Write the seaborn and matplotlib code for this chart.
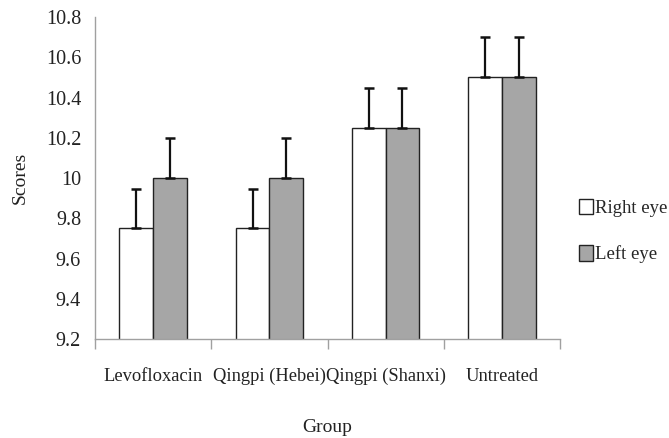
import matplotlib
matplotlib.use("Agg")
import matplotlib.pyplot as plt
import seaborn as sns
import pandas as pd
import numpy as np
from matplotlib.patches import Patch

groups = ["Levofloxacin", "Qingpi (Hebei)", "Qingpi (Shanxi)", "Untreated"]
right_eye = [9.75, 9.75, 10.25, 10.5]
left_eye = [10.0, 10.0, 10.25, 10.5]
right_err = [0.195, 0.195, 0.195, 0.2]
left_err = [0.2, 0.2, 0.195, 0.2]
series = ["Right eye", "Left eye"]
colors = ["#ffffff", "#a6a6a6"]

df = pd.DataFrame({
    "Group": groups * 2,
    "Score": right_eye + left_eye,
    "Eye": [series[0]] * 4 + [series[1]] * 4,
    "Err": right_err + left_err,
})

sns.set_style("white")
plt.rcParams['font.family'] = ['Liberation Serif', 'DejaVu Serif']

FS = 14.5

fig = plt.figure(figsize=(6.69, 4.38), dpi=100)
ax = fig.add_axes([95/669, 1 - 339/438, (560-95)/669, (339-17)/438])

sns.barplot(data=df, x="Group", y="Score", hue="Eye", palette=colors,
            errorbar=None, width=0.58, edgecolor="#222222", linewidth=1.0,
            ax=ax, legend=False)

# error bars (upper only) on bar centers
for cont, errs in zip(ax.containers, [right_err, left_err]):
    for patch, e in zip(cont.patches, errs):
        xc = patch.get_x() + patch.get_width() / 2
        top = patch.get_height() + patch.get_y()
        ax.errorbar(xc, top, yerr=[[0], [e]], fmt="none", ecolor="#111111",
                    elinewidth=1.6, capsize=3.3, capthick=1.8, zorder=3)

ax.set_ylim(9.2, 10.8)
ax.set_yticks(np.arange(9.2, 10.81, 0.2))
ax.set_yticklabels(["9.2", "9.4", "9.6", "9.8", "10", "10.2", "10.4", "10.6", "10.8"])
ax.set_xlim(-0.5, 3.5)
ax.set_xticks([0, 1, 2, 3])
ax.set_xticklabels(groups)
ax.set_xticks([-0.5, 0.5, 1.5, 2.5, 3.5], minor=True)
ax.tick_params(axis="x", which="major", length=0, pad=21, labelsize=13.3, colors="#222222")
ax.tick_params(axis="x", which="minor", length=7, width=1, color="#a0a0a0", direction="out")
ax.tick_params(axis="y", which="major", length=5, width=1, color="#a0a0a0", direction="out",
               labelsize=FS, pad=5, labelcolor="#222222")
ax.tick_params(axis="x", bottom=True, which="minor")

for s in ["top", "right"]:
    ax.spines[s].set_visible(False)
for s in ["left", "bottom"]:
    ax.spines[s].set_color("#a0a0a0")
    ax.spines[s].set_linewidth(1.0)

ax.set_xlabel("Group", fontsize=14, labelpad=24, color="#222222")
ax.set_ylabel("Scores", fontsize=14, labelpad=12, color="#222222")

handles = [Patch(facecolor=c, edgecolor="#222222", linewidth=1.0) for c in colors]
ax.legend(handles, series, loc="center left", bbox_to_anchor=(1.04, 0.335), frameon=False,
          fontsize=13.5, handlelength=0.75, handleheight=0.9, handletextpad=0.15,
          labelspacing=1.5, borderaxespad=0, borderpad=0)

fig.savefig("out.png", dpi=100)
